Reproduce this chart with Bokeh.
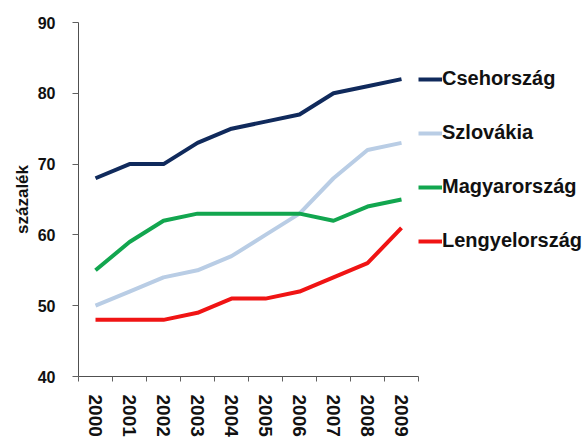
from bokeh.plotting import figure
from bokeh.models import Range1d, FixedTicker, Legend, LegendItem
from bokeh.embed import file_html
from bokeh.resources import INLINE

years = ["2000", "2001", "2002", "2003", "2004", "2005", "2006", "2007", "2008", "2009"]
cseh = [68, 70, 70, 73, 75, 76, 77, 80, 81, 82]
szlovakia = [50, 52, 54, 55, 57, 60, 63, 68, 72, 73]
magyar = [55, 59, 62, 63, 63, 63, 63, 62, 64, 65]
lengyel = [48, 48, 48, 49, 51, 51, 52, 54, 56, 61]
y_ticks = [40, 50, 60, 70, 80, 90]

series = [
    ("Csehország", cseh, "#102A5C"),
    ("Szlovákia", szlovakia, "#B9CDE5"),
    ("Magyarország", magyar, "#12A64F"),
    ("Lengyelország", lengyel, "#F01414"),
]

n = len(years)
centers = [i + 0.5 for i in range(n)]
bounds = list(range(n + 1))

FONT = "Liberation Sans"
W, H = 587, 439
LEFT, TOP, BOTTOM = 78, 22, 63
frame_w = W - LEFT
cat_px = 34.0

p = figure(width=W, height=H, output_backend="svg", toolbar_location=None,
           x_range=Range1d(0, frame_w / cat_px), y_range=Range1d(y_ticks[0], y_ticks[-1]),
           min_border_left=LEFT, min_border_right=0, min_border_top=TOP,
           min_border_bottom=BOTTOM)
p.outline_line_color = None
p.xgrid.grid_line_color = None
p.ygrid.grid_line_color = None

renderers = []
for name, vals, col in series:
    r = p.line(centers, vals, line_width=4, line_color=col, line_join="round")
    renderers.append((name, r))

# x axis
xa = p.xaxis[0]
xa.bounds = (0, n)
xa.ticker = FixedTicker(ticks=centers, minor_ticks=bounds)
xa.major_label_overrides = {c: y for c, y in zip(centers, years)}
xa.major_tick_out = 0
xa.major_tick_in = 0
xa.minor_tick_out = 5
xa.minor_tick_in = 0
xa.minor_tick_line_color = "#606060"
xa.axis_line_color = "#505050"
xa.major_label_orientation = "vertical"
xa.major_label_standoff = 13
xa.major_label_text_font = FONT
xa.major_label_text_font_style = "bold"
xa.major_label_text_font_size = "19px"
xa.major_label_text_color = "#111111"

# y axis
ya = p.yaxis[0]
ya.ticker = FixedTicker(ticks=y_ticks)
ya.minor_tick_line_color = None
ya.major_tick_out = 6
ya.major_tick_in = 0
ya.major_tick_line_color = "#606060"
ya.axis_line_color = "#505050"
ya.major_label_standoff = 17
ya.major_label_text_font = FONT
ya.major_label_text_font_style = "bold"
ya.major_label_text_font_size = "16px"
ya.major_label_text_color = "#111111"
ya.axis_label = "százalék"
ya.axis_label_text_font = FONT
ya.axis_label_text_font_style = "bold"
ya.axis_label_text_font_size = "17px"
ya.axis_label_text_color = "#111111"
ya.axis_label_standoff = 3

legend = Legend(items=[LegendItem(label=nm, renderers=[r]) for nm, r in renderers],
                location=(340, 124), orientation="vertical",
                glyph_width=24, glyph_height=20, label_height=20, spacing=31,
                label_standoff=-4, padding=0, margin=0,
                border_line_color=None, background_fill_alpha=0,
                label_text_font=FONT, label_text_font_style="bold",
                label_text_font_size="20px", label_text_color="#111111")
p.add_layout(legend, "center")

open("out.html", "w").write(file_html(p, INLINE))
